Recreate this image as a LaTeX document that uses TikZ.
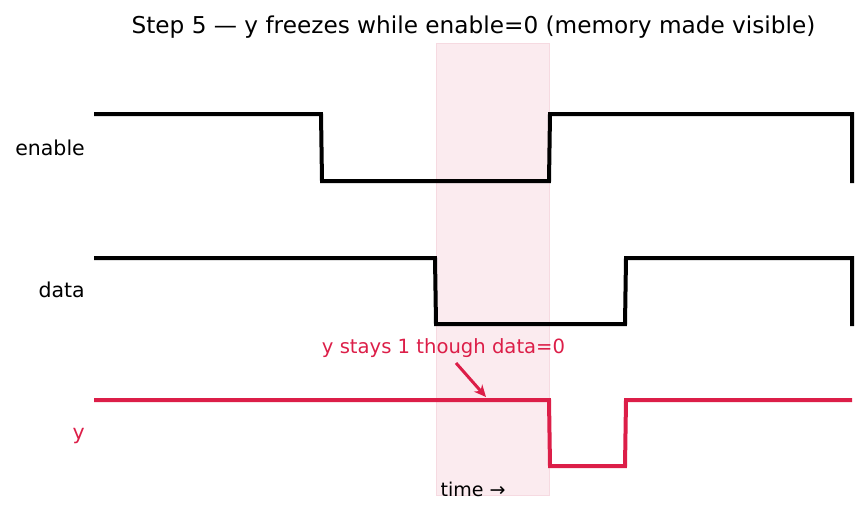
\documentclass[tikz,border=0pt]{standalone}
\usepackage{fontspec}
\setmainfont{DejaVu Sans}
\usetikzlibrary{arrows.meta}
\definecolor{crim}{RGB}{220,30,72}
\definecolor{bandpink}{RGB}{251,235,239}
\definecolor{bandedge}{RGB}{246,218,225}
\tikzset{
  wave/.style={line width=4pt, line join=miter},
  lbl/.style={font=\fontsize{20.5}{23}\selectfont, inner sep=0pt},
}
\begin{document}
\begin{tikzpicture}[x=1pt,y=-1pt]
\useasboundingbox (0,0) rectangle (867,514);
% highlight band
\fill[bandpink, draw=bandedge, line width=0.6pt] (436,43) rectangle (549,495);
% enable
\draw[wave, black] (94,114) -- (321,114) -- (322,181) -- (549,181) -- (550,114) -- (852,114) -- (852,183);
% data
\draw[wave, black] (94,258) -- (435,258) -- (436,324) -- (625,324) -- (626,258) -- (852,258) -- (852,326);
% y
\draw[wave, crim] (94,400) -- (549,400) -- (550,466) -- (625,466) -- (626,400) -- (852,400);
% labels
\node[lbl, anchor=base, font=\fontsize{23.2}{26}\selectfont] (title) at (473.5,33) {Step 5 — y freezes while enable=0 (memory made visible)};
\node[lbl, anchor=base east] (len) at (85,155) {enable};
\node[lbl, anchor=base east] (ldata) at (85,297) {data};
\node[lbl, anchor=base east, text=crim] (ly) at (85,439) {y};
\node[lbl, anchor=base, text=crim, font=\fontsize{19.6}{22}\selectfont] (note) at (443.5,353) {y stays 1 though data=0};
\node[lbl, anchor=base, font=\fontsize{19}{21}\selectfont] (time) at (473,496) {time →};
\coordinate (tip) at (486,397);
\draw[crim, line width=3pt, -{Stealth[length=12pt,width=11pt]}] (456,363) -- (tip);
\end{tikzpicture}
\end{document}
